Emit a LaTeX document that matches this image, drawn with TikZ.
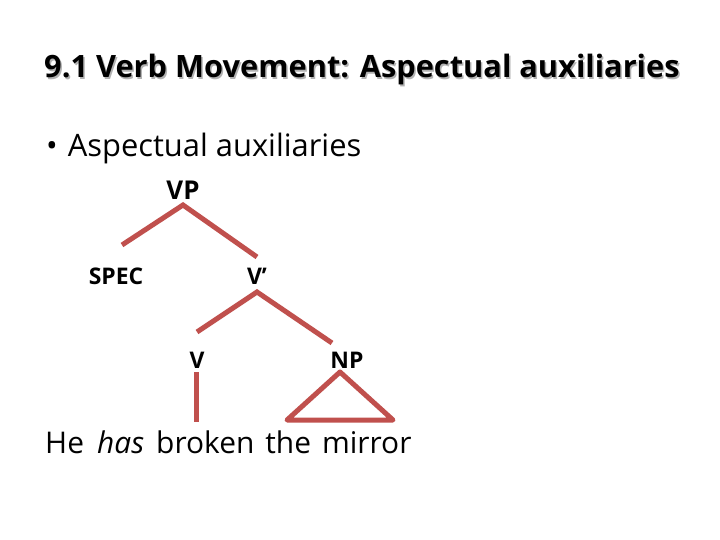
\documentclass[tikz,border=0pt]{standalone}
\usepackage{fontspec}
\setmainfont{Open Sans}
\usepackage{xcolor}
\usepackage{tikz}
\usetikzlibrary{positioning}

\definecolor{branchred}{HTML}{C0504D}

\tikzset{
  cat/.style={inner sep=0pt,font=\fontsize{23}{26}\selectfont\bfseries},
  word/.style={inner sep=0pt,anchor=base west,font=\fontsize{30}{34}\selectfont},
  branch/.style={draw=branchred,line width=5bp,line cap=butt}
}

\begin{document}
\begin{tikzpicture}[x=1bp,y=-1bp]
    \useasboundingbox (0,0) rectangle (720,540);
    % heading with its soft shadow
    \node[word,font=\fontsize{30.9}{34}\selectfont\bfseries,text=black!30] (titleshadow) at (45.5,79.5) {9.1 Verb Movement: Aspectual auxiliaries};
    \node[word,font=\fontsize{30.9}{34}\selectfont\bfseries] (title) at (44,78) {9.1 Verb Movement: Aspectual auxiliaries};
    \node[word,font=\fontsize{31}{34}\selectfont] (bullet) at (46,157) {\textbullet\hspace{10bp}Aspectual auxiliaries};

    % categories
    \node[cat,font=\fontsize{26}{30}\selectfont\bfseries] (vp) at (183,190) {VP};
    \node[cat] (spec) at (116,276) {SPEC};
    \node[cat] (vbar) at (257,276) {V’};
    \node[cat] (v) at (197,360) {V};
    \node[cat] (np) at (347,360) {NP};

    % branch ends
    \coordinate (vp-top) at (183,205);
    \coordinate (spec-end) at (122,245);
    \coordinate (vbar-end) at (257,257);
    \coordinate (vbar-top) at (257,292);
    \coordinate (v-end) at (197,332);
    \coordinate (np-end) at (332,343);
    \coordinate (has-top) at (196,372);
    \coordinate (has-end) at (196,422);
    \coordinate (np-top) at (340,372);
    \coordinate (np-left) at (287,420);
    \coordinate (np-right) at (393,420);

    \draw[branch] (spec-end) -- (vp-top) -- (vbar-end);
    \draw[branch] (v-end) -- (vbar-top) -- (np-end);
    \draw[branch] (has-top) -- (has-end);
    \draw[branch,line join=round] (np-top) -- (np-left) -- (np-right) -- cycle;

    % the sentence
    \node[word] (he) at (45,453) {He};
    \node[word,font=\fontsize{30}{34}\selectfont\itshape] (has) at (97,453) {has};
    \node[word] (rest) at (156,453) {broken\hspace{11bp}the\hspace{11bp}mirror};
  \end{tikzpicture}
\end{document}
